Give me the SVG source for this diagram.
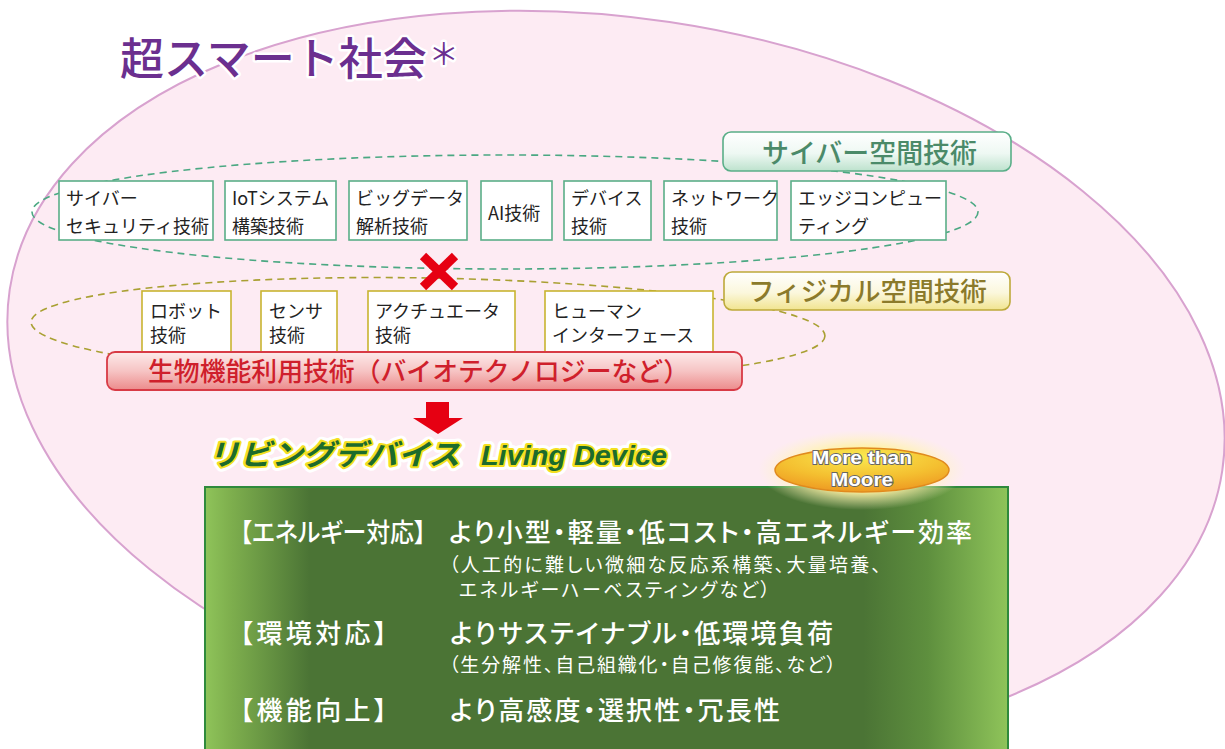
<svg xmlns="http://www.w3.org/2000/svg" width="1225" height="749" viewBox="0 0 1225 749">
<defs>
<linearGradient id="gCyber" x1="0" y1="0" x2="0" y2="1"><stop offset="0" stop-color="#ffffff"/><stop offset="0.55" stop-color="#eef8f3"/><stop offset="1" stop-color="#bde2cd"/></linearGradient>
<linearGradient id="gPhys" x1="0" y1="0" x2="0" y2="1"><stop offset="0" stop-color="#ffffff"/><stop offset="0.55" stop-color="#fbf7dc"/><stop offset="1" stop-color="#f1e48f"/></linearGradient>
<linearGradient id="gRed" x1="0" y1="0" x2="0" y2="1"><stop offset="0" stop-color="#fdeaea"/><stop offset="0.5" stop-color="#f6c4c4"/><stop offset="1" stop-color="#ec8b8b"/></linearGradient>
<linearGradient id="gGreen" x1="0" y1="0" x2="1" y2="0"><stop offset="0" stop-color="#8fc45a"/><stop offset="0.03" stop-color="#7fb04e"/><stop offset="0.13" stop-color="#4b7435"/><stop offset="0.82" stop-color="#4b7435"/><stop offset="0.9" stop-color="#5e8f3e"/><stop offset="1" stop-color="#8fc45a"/></linearGradient>
<radialGradient id="gMoore" cx="0.5" cy="0.2" r="0.8"><stop offset="0" stop-color="#fae94f"/><stop offset="0.6" stop-color="#f4bf30"/><stop offset="1" stop-color="#ee9a22"/></radialGradient>
<radialGradient id="gGlow" cx="0.5" cy="0.5" r="0.5"><stop offset="0.55" stop-color="#fff1a0" stop-opacity="0.95"/><stop offset="1" stop-color="#fff8c8" stop-opacity="0"/></radialGradient>
<style>
.box{fill:#fff;stroke-width:1.6}
.cy{stroke:#5aae88}
.ph{stroke:#c8b430}
.bt{font-family:"Noto Sans CJK JP","Noto Sans",sans-serif;font-size:18px;fill:#222}
.jp{font-family:"Noto Sans CJK JP","Noto Sans",sans-serif}
.wt{fill:#fff;font-feature-settings:"palt"}
.hd{font-size:26px;font-weight:500}
.mn{font-size:26px;font-weight:500}
.sb{font-size:19px}
</style>
</defs>
<rect width="1225" height="749" fill="#fff"/>
<g id="society">
<ellipse cx="616" cy="380" rx="613" ry="362" transform="rotate(8.5 616 380)" fill="#fdebf3" stroke="#d8a2cf" stroke-width="2"/>
<text x="120" y="75" class="jp" font-size="44" font-weight="500" fill="#6b2f8f" stroke="#fff" stroke-width="5" paint-order="stroke" stroke-linejoin="round">超スマート社会<tspan font-size="30" font-weight="400" dx="2" dy="-10">＊</tspan></text>
</g>
<g id="groups" fill="none" stroke-width="1.6" stroke-dasharray="7 5">
<ellipse id="cyber-group" cx="505" cy="212" rx="473" ry="57" stroke="#4aa882"/>
<ellipse id="physical-group" cx="428" cy="329" rx="397" ry="51" stroke="#a9a032" transform="rotate(1 428 329)"/>
</g>
<g id="cyber-label">
<rect x="723" y="132" width="288" height="39" rx="8" fill="url(#gCyber)" stroke="#5aae88" stroke-width="1.6"/>
<text x="762" y="163" class="jp" font-size="27" font-weight="500" fill="#4b8a69" textLength="215" lengthAdjust="spacingAndGlyphs">サイバー空間技術</text>
</g>
<g id="cyber-security"><rect class="box cy" x="59" y="181" width="154" height="59"/><text class="bt" x="66" y="205">サイバー</text><text class="bt" x="66" y="233">セキュリティ技術</text></g>
<g id="iot"><rect class="box cy" x="225" y="181" width="111" height="59"/><text class="bt" x="232" y="205">IoTシステム</text><text class="bt" x="232" y="233">構築技術</text></g>
<g id="bigdata"><rect class="box cy" x="349" y="181" width="118" height="59"/><text class="bt" x="356" y="205">ビッグデータ</text><text class="bt" x="356" y="233">解析技術</text></g>
<g id="ai"><rect class="box cy" x="481" y="181" width="71" height="59"/><text class="bt" x="488" y="220">AI技術</text></g>
<g id="device"><rect class="box cy" x="564" y="181" width="87" height="59"/><text class="bt" x="571" y="205">デバイス</text><text class="bt" x="571" y="233">技術</text></g>
<g id="network"><rect class="box cy" x="664" y="181" width="113" height="59"/><text class="bt" x="671" y="205">ネットワーク</text><text class="bt" x="671" y="233">技術</text></g>
<g id="edge"><rect class="box cy" x="791" y="181" width="155" height="59"/><text class="bt" x="798" y="205">エッジコンピュー</text><text class="bt" x="798" y="233">ティング</text></g>
<g id="physical-label">
<rect x="724" y="272" width="286" height="38" rx="8" fill="url(#gPhys)" stroke="#bda93a" stroke-width="1.6"/>
<text x="748" y="301" class="jp" font-size="26.5" font-weight="500" fill="#8b7a2b" textLength="239" lengthAdjust="spacingAndGlyphs">フィジカル空間技術</text>
</g>
<g id="robot"><rect class="box ph" x="142" y="291" width="89" height="70"/><text class="bt" x="150" y="318">ロボット</text><text class="bt" x="150" y="342">技術</text></g>
<g id="sensor"><rect class="box ph" x="261" y="291" width="76" height="70"/><text class="bt" x="269" y="318">センサ</text><text class="bt" x="269" y="342">技術</text></g>
<g id="actuator"><rect class="box ph" x="368" y="291" width="147" height="70"/><text class="bt" x="375" y="318">アクチュエータ</text><text class="bt" x="375" y="342">技術</text></g>
<g id="hmi"><rect class="box ph" x="545" y="291" width="168" height="70"/><text class="bt" x="552" y="318">ヒューマン</text><text class="bt" x="552" y="342">インターフェース</text></g>
<g id="bio">
<rect x="107" y="352" width="635" height="38" rx="8" fill="url(#gRed)" stroke="#d83a45" stroke-width="1.8"/>
<text x="148" y="381" class="jp" font-size="26" font-weight="500" fill="#cf1f2c" textLength="541" lengthAdjust="spacingAndGlyphs">生物機能利用技術（バイオテクノロジーなど）</text>
</g>
<g id="connectors">
<g id="cross" stroke="#e60012" stroke-width="9">
<line x1="423" y1="256" x2="455" y2="287"/>
<line x1="455" y1="256" x2="423" y2="287"/>
</g>
<polygon id="down-arrow" points="426,402 449,402 449,418 463,418 438,434 413,418 426,418" fill="#e60012"/>
</g>
<g id="living-device">
<g font-weight="700" font-style="italic" stroke-linejoin="round">
<text x="208" y="465" class="jp" font-size="29" fill="none" stroke="#fff" stroke-width="10" textLength="252" lengthAdjust="spacingAndGlyphs">リビングデバイス</text>
<text x="481" y="465" font-family="'Liberation Sans',sans-serif" font-size="28" fill="none" stroke="#fff" stroke-width="10" textLength="186" lengthAdjust="spacingAndGlyphs">Living Device</text>
<text x="208" y="465" class="jp" font-size="29" fill="#1c6b2c" stroke="#f4e020" stroke-width="4" paint-order="stroke" textLength="252" lengthAdjust="spacingAndGlyphs">リビングデバイス</text>
<text x="481" y="465" font-family="'Liberation Sans',sans-serif" font-size="28" fill="#1c6b2c" stroke="#f4e020" stroke-width="4" paint-order="stroke" textLength="186" lengthAdjust="spacingAndGlyphs">Living Device</text>
</g>
</g>
<g id="living-device-box">
<rect x="205" y="487" width="803" height="270" fill="url(#gGreen)" stroke="#2f8a3c" stroke-width="2"/>
<g class="jp wt">
<text class="hd" x="240" y="542" textLength="186" lengthAdjust="spacingAndGlyphs">【エネルギー対応】</text>
<text class="mn" x="449" y="542" textLength="523" lengthAdjust="spacing">より小型・軽量・低コスト・高エネルギー効率</text>
<text class="sb" x="449" y="572" textLength="432" lengthAdjust="spacing">（人工的に難しい微細な反応系構築、大量培養、</text>
<text class="sb" x="459" y="597" textLength="311" lengthAdjust="spacing">エネルギーハーベスティングなど）</text>
<text class="hd" x="240" y="643" textLength="147" lengthAdjust="spacing">【環境対応】</text>
<text class="mn" x="450" y="643" textLength="383" lengthAdjust="spacing">よりサステイナブル・低環境負荷</text>
<text class="sb" x="449" y="672" textLength="387" lengthAdjust="spacing">（生分解性、自己組織化・自己修復能、など）</text>
<text class="hd" x="240" y="720" textLength="147" lengthAdjust="spacing">【機能向上】</text>
<text class="mn" x="450" y="720" textLength="330" lengthAdjust="spacing">より高感度・選択性・冗長性</text>
</g>
</g>
<g id="more-than-moore">
<ellipse cx="862" cy="470" rx="104" ry="40" fill="url(#gGlow)"/>
<ellipse cx="862" cy="470" rx="87" ry="22" fill="url(#gMoore)" stroke="#e08a1e" stroke-width="1.5"/>
<g font-family="'Liberation Sans',sans-serif" font-size="19" font-weight="700" fill="#fff" stroke="#666" stroke-width="1.8" paint-order="stroke" text-anchor="middle">
<text x="862" y="464" textLength="100" lengthAdjust="spacingAndGlyphs">More than</text>
<text x="862" y="486" textLength="62" lengthAdjust="spacingAndGlyphs">Moore</text>
</g>
</g>
</svg>
